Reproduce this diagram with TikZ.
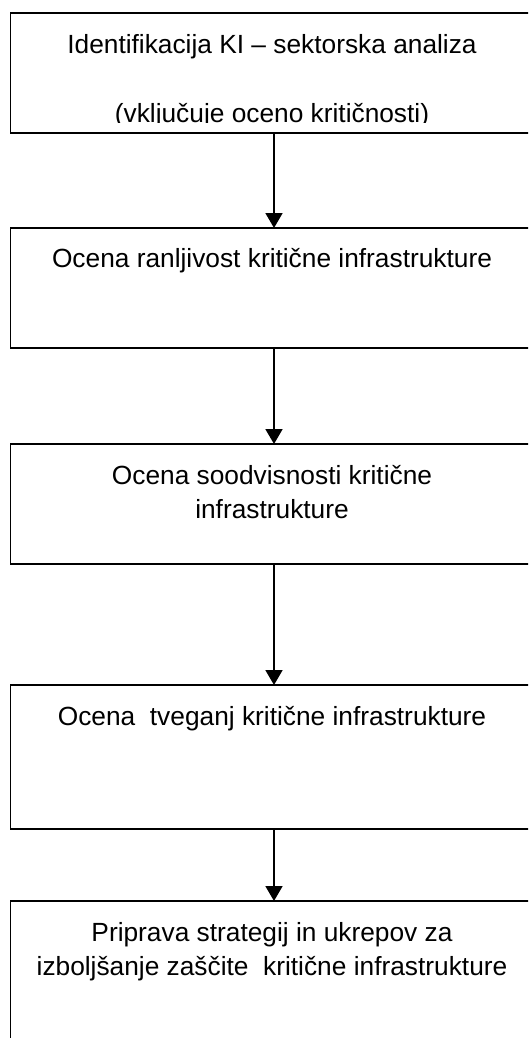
\documentclass[tikz,border=0pt]{standalone}
\usepackage{fontspec}
\setmainfont{Liberation Sans}
\usetikzlibrary{arrows.meta}
\usetikzlibrary{positioning}
\tikzset{
  stepbox/.style={draw=black, line width=1.8pt, rectangle, minimum width=523pt, inner sep=0pt, outer sep=0pt},
  steptext/.style={align=center, inner sep=0pt, anchor=base, font=\fontsize{26.3}{34}\selectfont},
  flow/.style={line width=1.8pt, -{Triangle[length=15pt, width=17pt]}},
}

\begin{document}
\begin{tikzpicture}[x=1pt, y=1pt]
\useasboundingbox (0,0) rectangle (528,-1038);
\clip (0,0) rectangle (528,-1038);
% boxes of the flow
\node[stepbox, minimum height=120pt, anchor=north west] (b1) at (10.5,-13) {};
\node[stepbox, minimum height=120pt, below=95pt of b1] (b2) {};
\node[stepbox, minimum height=120pt, below=96pt of b2] (b3) {};
\node[stepbox, minimum height=144pt, below=121pt of b3] (b4) {};
\node[stepbox, minimum height=170pt, below=72pt of b4] (b5) {};
% texts (base = last line)
\begin{scope}
  \clip (b1.north west) rectangle ([yshift=10pt]b1.south east);
  \node[steptext] (t1) at ([yshift=-109pt]b1.north) {Identifikacija KI -- sektorska analiza\\ \\(vključuje oceno kritičnosti)};
\end{scope}
\node[steptext] (t2) at ([yshift=-39pt]b2.north) {Ocena ranljivost kritične infrastrukture};
\node[steptext] (t3) at ([yshift=-74pt]b3.north) {Ocena soodvisnosti kritične\\infrastrukture};
\node[steptext] (t4) at ([yshift=-40pt]b4.north) {Ocena\ \ tveganj kritične infrastrukture};
\node[steptext] (t5) at ([yshift=-74pt]b5.north) {Priprava strategij in ukrepov za\\izboljšanje zaščite\ \ kritične infrastrukture};
% arrows
\foreach \a/\b in {b1/b2,b2/b3,b3/b4,b4/b5}{
  \draw[flow] ([xshift=2pt]\a.south) -- ([xshift=2pt]\b.north);
}
\end{tikzpicture}
\end{document}
